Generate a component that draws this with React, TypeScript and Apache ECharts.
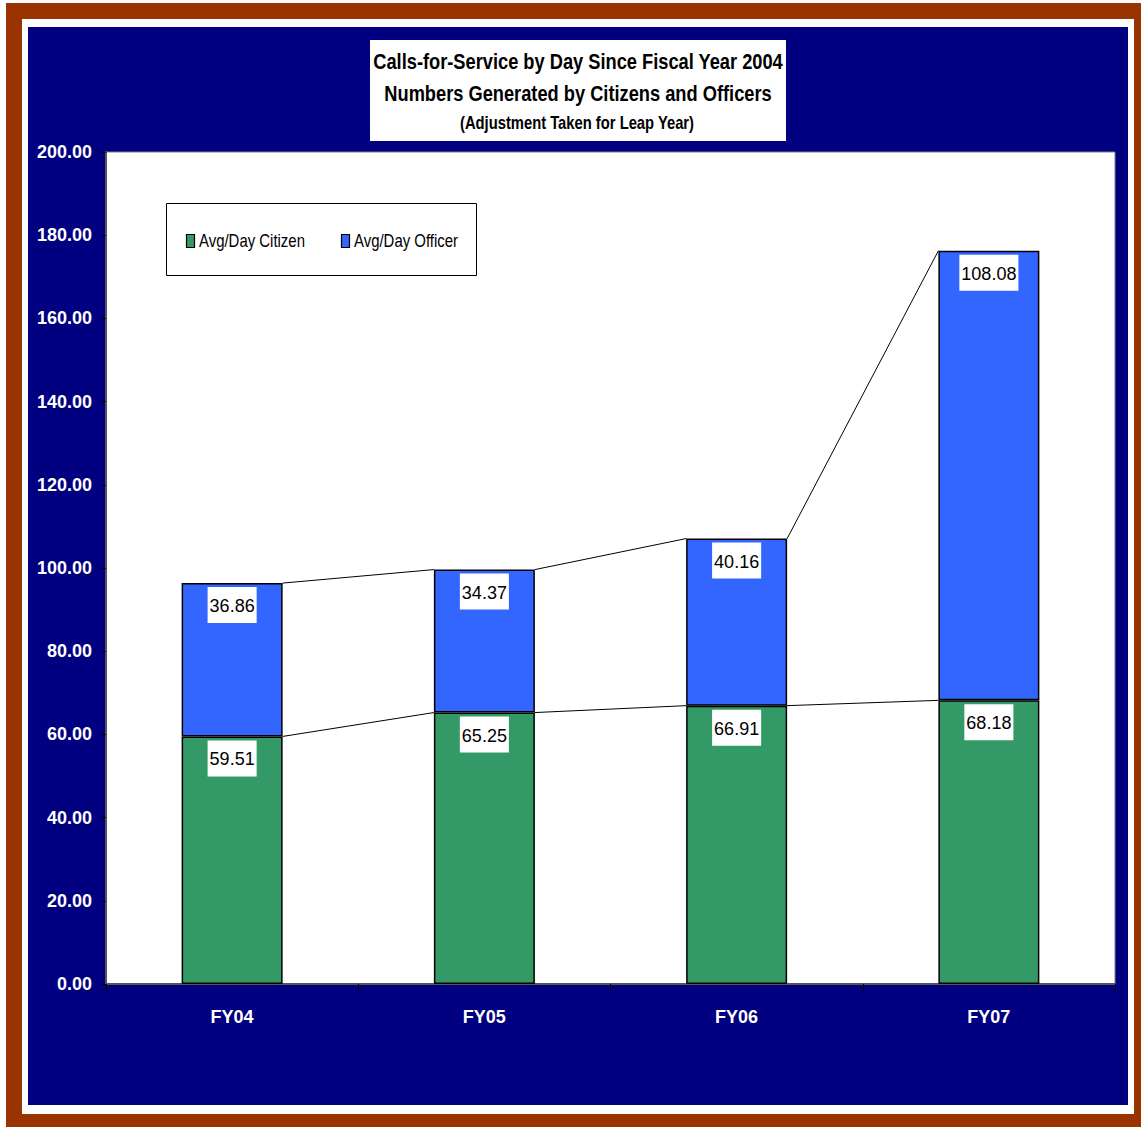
import React, { useEffect, useRef } from "react";
import * as echarts from "echarts";

const categories = ["FY04", "FY05", "FY06", "FY07"];
const citizen = [59.51, 65.25, 66.91, 68.18];
const officer = [36.86, 34.37, 40.16, 108.08];
const seriesNames = ["Avg/Day Citizen", "Avg/Day Officer"];
const seriesColors = ["#339966", "#3366FF"];
const titleLines = [
  "Calls-for-Service by Day Since Fiscal Year 2004",
  "Numbers Generated by Citizens and Officers",
  "(Adjustment Taken for Leap Year)",
];

const FONT = '"Liberation Sans", Arial, sans-serif';
const NARROW = 0.83;
const BAR_W = 101;

export default function App() {
  const ref = useRef<HTMLDivElement>(null);
  useEffect(() => {
    document.body.style.margin = "0";
    const chart = echarts.init(ref.current!, undefined, { renderer: "svg" });
    const totals = citizen.map((c, i) => c + officer[i]);
    const segs: number[][] = [];
    for (let i = 0; i < categories.length - 1; i++) {
      segs.push([i, citizen[i], i + 1, citizen[i + 1]]);
      segs.push([i, totals[i], i + 1, totals[i + 1]]);
    }
    const labelCfg = {
      show: true,
      position: "insideTop",
      distance: 4,
      backgroundColor: "#ffffff",
      padding: [10, 2, 8, 2],
      color: "#000",
      fontSize: 18,
      fontFamily: FONT,
      formatter: (p: any) => Number(p.value).toFixed(2),
    };
    const legendX = [186, 341];
    const legendGraphics: any[] = [
      {
        type: "rect", z: 10,
        shape: { x: 166.5, y: 203.5, width: 310, height: 72 },
        style: { fill: "#ffffff", stroke: "#000", lineWidth: 1 },
      },
    ];
    seriesNames.forEach((name, i) => {
      legendGraphics.push({
        type: "rect", z: 11,
        shape: { x: legendX[i] + 0.5, y: 234.5, width: 8, height: 13 },
        style: { fill: seriesColors[i], stroke: "#000", lineWidth: 1.2 },
      });
      legendGraphics.push({
        type: "text", z: 11, x: legendX[i] + 13, y: 241, scaleX: NARROW,
        style: { text: name, fill: "#000", font: `18px ${FONT}`, textAlign: "left", textVerticalAlign: "middle" },
      });
    });
    chart.setOption({
      animation: false,
      backgroundColor: "#ffffff",
      graphic: [
        { type: "rect", z: -10, shape: { x: 6, y: 3, width: 1135, height: 1124 }, style: { fill: "#993300" } },
        { type: "rect", z: -9, shape: { x: 22, y: 19, width: 1112, height: 1095 }, style: { fill: "#ffffff" } },
        { type: "rect", z: -8, shape: { x: 28, y: 27, width: 1100, height: 1078 }, style: { fill: "#000080" } },
        { type: "rect", z: 10, shape: { x: 370, y: 40, width: 416, height: 101 }, style: { fill: "#ffffff" } },
        {
          type: "text", z: 11, x: 578, y: 61, scaleX: NARROW,
          style: { text: titleLines[0], fill: "#000", font: `bold 22px ${FONT}`, textAlign: "center", textVerticalAlign: "middle" },
        },
        {
          type: "text", z: 11, x: 578, y: 93, scaleX: NARROW,
          style: { text: titleLines[1], fill: "#000", font: `bold 22px ${FONT}`, textAlign: "center", textVerticalAlign: "middle" },
        },
        {
          type: "text", z: 11, x: 577, y: 122, scaleX: NARROW,
          style: { text: titleLines[2], fill: "#000", font: `bold 17.8px ${FONT}`, textAlign: "center", textVerticalAlign: "middle" },
        },
        ...legendGraphics,
      ],
      grid: {
        left: 106,
        top: 152,
        width: 1009,
        height: 832,
        show: true,
        backgroundColor: "#ffffff",
        borderColor: "#808080",
        borderWidth: 1,
      },
      xAxis: {
        type: "category",
        data: categories,
        axisLine: { lineStyle: { color: "#555", width: 2 } },
        axisTick: { show: true, length: 8, lineStyle: { color: "#000", width: 1 } },
        axisLabel: { color: "#fff", fontWeight: "bold", fontSize: 18, fontFamily: FONT, margin: 24 },
      },
      yAxis: {
        type: "value",
        min: 0,
        max: 200,
        interval: 20,
        axisLine: { show: true, lineStyle: { color: "#555", width: 2 } },
        axisTick: { show: true, length: 5, lineStyle: { color: "#000" } },
        splitLine: { show: false },
        axisLabel: {
          color: "#fff",
          fontWeight: "bold",
          fontSize: 18,
          fontFamily: FONT,
          margin: 14,
          formatter: (v: number) => v.toFixed(2),
        },
      },
      series: [
        {
          name: seriesNames[0],
          type: "bar",
          stack: "total",
          barWidth: BAR_W,
          data: citizen,
          itemStyle: { color: seriesColors[0], borderColor: "#000", borderWidth: 1.5 },
          label: labelCfg,
        },
        {
          name: seriesNames[1],
          type: "bar",
          stack: "total",
          barWidth: BAR_W,
          data: officer,
          itemStyle: { color: seriesColors[1], borderColor: "#000", borderWidth: 1.5 },
          label: labelCfg,
        },
        {
          type: "custom",
          silent: true,
          z: 5,
          data: segs,
          renderItem: (params: any, api: any) => {
            const p0 = api.coord([api.value(0), api.value(1)]);
            const p1 = api.coord([api.value(2), api.value(3)]);
            return {
              type: "line",
              shape: { x1: p0[0] + BAR_W / 2, y1: p0[1], x2: p1[0] - BAR_W / 2, y2: p1[1] },
              style: { stroke: "#000", lineWidth: 1 },
            };
          },
        },
      ],
    });
    return () => chart.dispose();
  }, []);
  return <div ref={ref} style={{ width: 1141, height: 1127 }} />;
}
